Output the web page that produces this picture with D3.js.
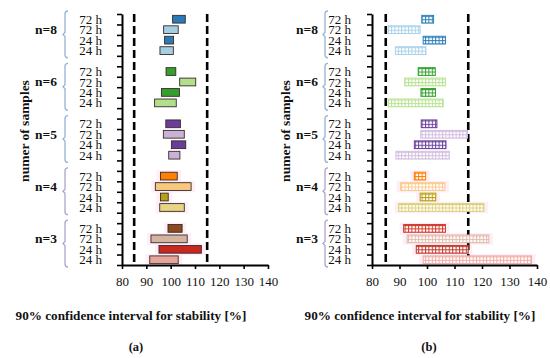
<!DOCTYPE html>
<html>
<head>
<meta charset="utf-8">
<script src="https://cdn.jsdelivr.net/npm/d3@7"></script>
<style>
  body { margin: 0; background: #fff; }
  svg { display: block; }
  text { font-family: "Liberation Serif", "DejaVu Serif", serif; fill: #111; }
</style>
</head>
<body>
<svg id="chart" width="550" height="358"></svg>
<script>
// groups and rows (top to bottom)
const groups = ["n=8", "n=6", "n=5", "n=4", "n=3"];
const rowLabels = ["72 h", "72 h", "24 h", "24 h"];
const xTicks = [80, 90, 100, 110, 120, 130, 140];
const limits = [85, 115];

// panel (a): 90% CI low / high per row
const aLow  = [100.8, 97.1, 97.5, 95.6,  98.1, 103.7, 96.2, 93.4,  98.0, 97.0, 100.3, 99.2,  95.8, 93.7, 95.8, 95.5,  98.9, 91.9, 95.2, 91.4];
const aHigh = [106.0, 103.1, 101.2, 101.1,  102.1, 110.3, 103.6, 102.3,  104.0, 105.6, 106.2, 103.8,  102.7, 108.4, 99.0, 105.6,  104.7, 106.8, 112.6, 103.1];
const aColors = ["#2a7ab8", "#a6cee3", "#2a7ab8", "#a6cee3",
                 "#33a02c", "#b2df8a", "#33a02c", "#b2df8a",
                 "#6a3d9a", "#cab2d6", "#6a3d9a", "#cab2d6",
                 "#ff7f00", "#f7c97c", "#b8a012", "#e6d684",
                 "#8c4a1e", "#d4b49e", "#c8281e", "#e6a598"];

// panel (b)
const bLow  = [98.1, 85.9, 98.6, 88.5,  96.8, 91.9, 97.8, 85.9,  97.9, 97.7, 95.4, 88.7,  95.4, 90.4, 97.5, 89.7,  91.5, 92.8, 96.1, 98.6];
const bHigh = [102.4, 97.5, 106.7, 99.6,  103.0, 106.7, 103.1, 105.9,  103.6, 114.7, 106.9, 108.1,  99.5, 106.5, 103.2, 120.7,  106.7, 122.5, 115.0, 138.0];
const bColors = ["#2c7fb8", "#a9d2ea", "#2c7fb8", "#a9d2ea",
                 "#33a02c", "#b8e392", "#33a02c", "#b8e392",
                 "#6a3d9a", "#d2bde0", "#6a3d9a", "#d2bde0",
                 "#ff7f00", "#fcc98a", "#b8a012", "#dcd078",
                 "#d23a2a", "#e2b8a8", "#c0392b", "#f2aaa4"];

const svg = d3.select("#chart");
const defs = svg.append("defs");

const panels = [
  { id: "a", low: aLow, high: aHigh, colors: aColors, hatch: false,
    x0: 122, x1: 268, labelRight: 102, braceX: 65, groupRight: 57, yLabelX: 24, titleX: 131, tagX: 136 },
  { id: "b", low: bLow, high: bHigh, colors: bColors, hatch: true,
    x0: 372, x1: 537, labelRight: 351, braceX: 325, groupRight: 318, yLabelX: 285, titleX: 420, tagX: 429 }
];

const yTop = 14, yBottom = 265;
const nSlots = groups.length * 5 - 1;

function slotOf(i) {
  return Math.floor(i / 4) * 5 + (i % 4);
}

panels.forEach(p => {
  const x = d3.scaleLinear().domain([80, 140]).range([p.x0, p.x1]);
  const y = d3.scaleBand().domain(d3.range(nSlots)).range([yTop, yBottom]).paddingInner(0.26).paddingOuter(0.13);
  const yLin = d3.scaleLinear().domain([0, nSlots]).range([yTop, yBottom]);
  const g = svg.append("g");

  const rows = p.low.map((lo, i) => ({ lo, hi: p.high[i], color: p.colors[i], slot: slotOf(i), label: rowLabels[i % 4], group: Math.floor(i / 4) }));

  // hatch patterns for panel b
  if (p.hatch) {
    rows.forEach((d, i) => {
      const pat = defs.append("pattern")
        .attr("id", "hatch" + i)
        .attr("patternUnits", "userSpaceOnUse")
        .attr("width", 3.4).attr("height", 3.4)
        .attr("x", 0).attr("y", y(d.slot) + 0.5);
      pat.append("rect").attr("width", 3.4).attr("height", 3.4).attr("fill", d.color);
      pat.append("rect").attr("x", 1).attr("y", 1).attr("width", 2.4).attr("height", 2.4).attr("fill", "#fff");
    });
  }

  // faint pink halo behind lower groups
  g.selectAll("rect.halo")
    .data(rows.filter(d => d.group >= 3))
    .join("rect")
    .attr("class", "halo")
    .attr("x", d => x(d.lo) - 4)
    .attr("y", d => y(d.slot) - 2)
    .attr("width", d => x(d.hi) - x(d.lo) + 8)
    .attr("height", y.bandwidth() + 4)
    .attr("fill", "#fdeef8");

  // limit lines
  g.selectAll("line.limit")
    .data(limits)
    .join("line")
    .attr("class", "limit")
    .attr("x1", d => x(d)).attr("x2", d => x(d))
    .attr("y1", yTop).attr("y2", yBottom)
    .attr("stroke", "#000")
    .attr("stroke-width", 2.6)
    .attr("stroke-dasharray", "8,4");

  // bars
  g.selectAll("rect.bar")
    .data(rows)
    .join("rect")
    .attr("class", "bar")
    .attr("x", d => x(d.lo))
    .attr("y", d => y(d.slot))
    .attr("width", d => x(d.hi) - x(d.lo))
    .attr("height", y.bandwidth())
    .attr("fill", (d, i) => p.hatch ? "url(#hatch" + i + ")" : d.color)
    .attr("stroke", d => p.hatch ? d.color : "#3a2a2a")
    .attr("stroke-width", p.hatch ? 1 : 0.9);

  // axes
  const yAxis = g.append("g")
    .attr("transform", `translate(${p.x0},0)`)
    .call(d3.axisLeft(yLin).tickValues(d3.range(nSlots + 1)).tickFormat("").tickSize(5).tickSizeOuter(0));
  yAxis.select(".domain").attr("stroke-width", 2);
  yAxis.selectAll(".tick line").attr("stroke-width", 1.6);

  const xAxis = g.append("g")
    .attr("transform", `translate(0,${yBottom})`)
    .call(d3.axisBottom(x).tickValues(xTicks).tickSize(4).tickSizeOuter(0).tickPadding(8));
  xAxis.select(".domain").attr("stroke-width", 2);
  xAxis.selectAll(".tick line").attr("stroke-width", 1.6);
  xAxis.selectAll(".tick text")
    .attr("font-family", "Liberation Serif, serif")
    .attr("font-size", 13)
    .attr("fill", "#222");

  // row labels
  g.selectAll("text.row")
    .data(rows)
    .join("text")
    .attr("class", "row")
    .attr("x", p.labelRight)
    .attr("y", d => y(d.slot) + y.bandwidth() / 2)
    .attr("dy", "0.35em")
    .attr("text-anchor", "end")
    .attr("font-size", 13)
    .text(d => d.label);

  // braces and group labels
  groups.forEach((name, gi) => {
    const top = yLin(gi * 5) - 3;
    const bot = yLin(gi * 5 + 4) + 2;
    const mid = (top + bot) / 2;
    const bx = p.braceX;
    g.append("path")
      .attr("d", `M${bx + 3},${top} Q${bx},${top} ${bx},${top + 3} L${bx},${mid - 2} L${bx - 2},${mid} L${bx},${mid + 2} L${bx},${bot - 3} Q${bx},${bot} ${bx + 3},${bot}`)
      .attr("fill", "none")
      .attr("stroke", gi >= 3 ? "#a9a6cf" : "#95b3d8")
      .attr("stroke-width", 1.3);
    g.append("text")
      .attr("x", p.groupRight)
      .attr("y", mid - 5)
      .attr("dy", "0.35em")
      .attr("text-anchor", "end")
      .attr("font-size", 13.5)
      .attr("font-weight", "bold")
      .text(name);
  });

  // axis titles
  g.append("text")
    .attr("transform", `translate(${p.yLabelX},131) rotate(-90)`)
    .attr("text-anchor", "middle")
    .attr("dy", "0.35em")
    .attr("font-size", 13.5)
    .attr("font-weight", "bold")
    .text("numer of samples");

  g.append("text")
    .attr("x", p.titleX)
    .attr("y", 315)
    .attr("dy", "0.35em")
    .attr("text-anchor", "middle")
    .attr("font-size", 13.2)
    .attr("font-weight", "bold")
    .text("90% confidence interval for stability [%]");

  g.append("text")
    .attr("x", p.tagX)
    .attr("y", 347)
    .attr("dy", "0.35em")
    .attr("text-anchor", "middle")
    .attr("font-size", 12.5)
    .attr("font-weight", "bold")
    .text("(" + p.id + ")");
});
</script>
</body>
</html>
